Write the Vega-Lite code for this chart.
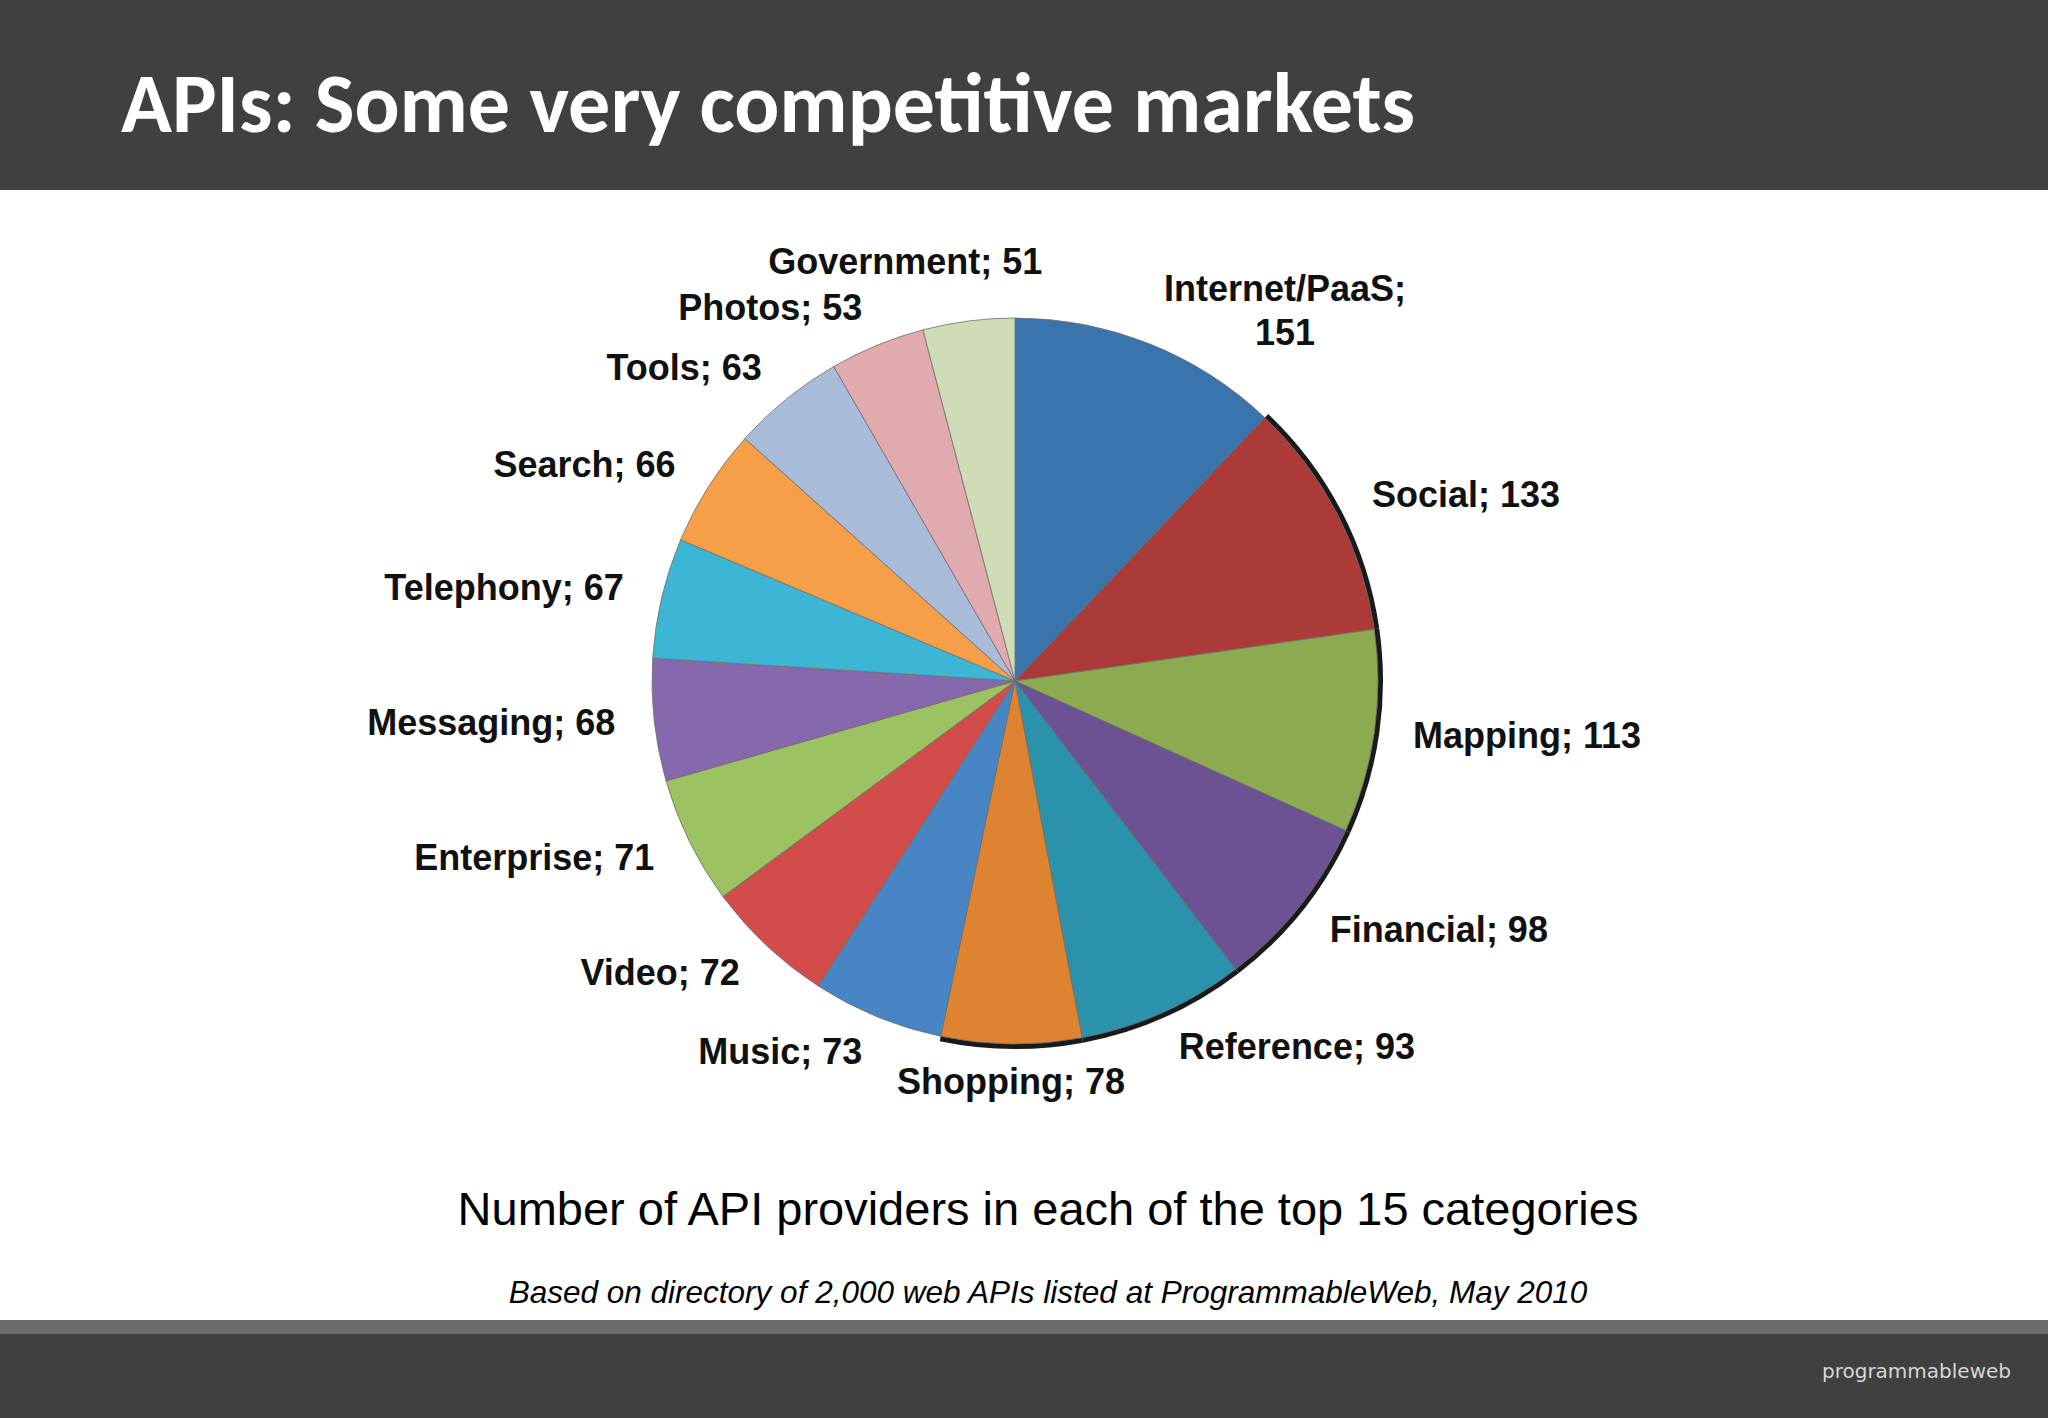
{
  "$schema": "https://vega.github.io/schema/vega-lite/v6.json",
  "background": "#404040",
  "padding": {"top": 65, "left": 0, "right": 0, "bottom": 40},
  "title": {
    "text": "APIs: Some very competitive markets",
    "anchor": "start",
    "frame": "group",
    "dx": 121,
    "offset": 40,
    "font": "Carlito, Lato, sans-serif",
    "fontSize": 84,
    "fontWeight": "bold",
    "color": "#ffffff"
  },
  "spacing": 0,
  "config": {"view": {"stroke": null}},
  "vconcat": [
    {
      "spacing": 0,
      "hconcat": [
        {
          "width": 2030,
          "height": 982,
          "view": {"fill": "#ffffff", "stroke": null},
          "data": {
            "values": [
              {"category": "Internet/PaaS", "value": 151, "label": "Internet/PaaS;\n151"},
              {"category": "Social", "value": 133, "label": "Social; 133"},
              {"category": "Mapping", "value": 113, "label": "Mapping; 113"},
              {"category": "Financial", "value": 98, "label": "Financial; 98"},
              {"category": "Reference", "value": 93, "label": "Reference; 93"},
              {"category": "Shopping", "value": 78, "label": "Shopping; 78"},
              {"category": "Music", "value": 73, "label": "Music; 73"},
              {"category": "Video", "value": 72, "label": "Video; 72"},
              {"category": "Enterprise", "value": 71, "label": "Enterprise; 71"},
              {"category": "Messaging", "value": 68, "label": "Messaging; 68"},
              {"category": "Telephony", "value": 67, "label": "Telephony; 67"},
              {"category": "Search", "value": 66, "label": "Search; 66"},
              {"category": "Tools", "value": 63, "label": "Tools; 63"},
              {"category": "Photos", "value": 53, "label": "Photos; 53"},
              {"category": "Government", "value": 51, "label": "Government; 51"}
            ]
          },
          "encoding": {
            "theta": {"field": "value", "type": "quantitative", "stack": true},
            "order": {"field": "value", "sort": "descending"}
          },
          "layer": [
            {
              "mark": {
                "type": "arc",
                "outerRadius": 368,
                "fill": "#1a1a1a",
                "fillOpacity": {"expr": "(datum.value_start + datum.value_end) / 2500 > 0.13 && (datum.value_start + datum.value_end) / 2500 < 0.52 ? 1 : 0"}
              }
            },
            {
              "mark": {"type": "arc", "outerRadius": 363, "stroke": "#6e6e6e", "strokeWidth": 0.8},
              "encoding": {
                "color": {
                  "field": "category",
                  "type": "nominal",
                  "sort": null,
                  "legend": null,
                  "scale": {
                    "domain": ["Internet/PaaS", "Social", "Mapping", "Financial", "Reference", "Shopping", "Music", "Video", "Enterprise", "Messaging", "Telephony", "Search", "Tools", "Photos", "Government"],
                    "range": ["#3a74ad", "#ab3a38", "#8caa50", "#6c5292", "#2a93ab", "#de8430", "#4885c4", "#d24d4a", "#9cc261", "#8669ad", "#3cb6d4", "#f69e48", "#a8bbd9", "#e0aaae", "#cfdcb6"]
                  }
                }
              }
            },
            {
              "mark": {
                "type": "text",
                "radius": {"expr": "(cos(PI * (datum.value_start + datum.value_end) / 1250) > 0.97 || (cos(PI * (datum.value_start + datum.value_end) / 1250) > 0.9 && sin(PI * (datum.value_start + datum.value_end) / 1250) > 0)) ? 421 : 402"},
                "dx": {"expr": "cos(PI * (datum.value_start + datum.value_end) / 1250) > 0.97 ? -56 : ((cos(PI * (datum.value_start + datum.value_end) / 1250) > 0.9 && sin(PI * (datum.value_start + datum.value_end) / 1250) > 0) ? 114 : 0)"},
                "font": "Liberation Sans, Arial, sans-serif",
                "fontWeight": "bold",
                "fontSize": 36,
                "lineBreak": "\n",
                "lineHeight": 44,
                "baseline": "middle",
                "color": "#111111",
                "align": {"expr": "(cos(PI * (datum.value_start + datum.value_end) / 1250) > 0.97 || (cos(PI * (datum.value_start + datum.value_end) / 1250) > 0.9 && sin(PI * (datum.value_start + datum.value_end) / 1250) > 0)) ? 'center' : (sin(PI * (datum.value_start + datum.value_end) / 1250) > 0.15 ? 'left' : (sin(PI * (datum.value_start + datum.value_end) / 1250) < -0.15 ? 'right' : 'center'))"}
              },
              "encoding": {"text": {"field": "label"}}
            }
          ]
        },
        {
          "width": 18,
          "height": 982,
          "view": {"fill": "#ffffff", "stroke": null},
          "data": {"values": [{"blank": ""}]},
          "mark": {"type": "text"},
          "encoding": {"text": {"field": "blank"}}
        }
      ]
    },
    {
      "width": 2048,
      "height": 106,
      "view": {"fill": "#ffffff", "stroke": null},
      "data": {"values": [{"caption": "Number of API providers in each of the top 15 categories"}]},
      "mark": {"type": "text", "font": "Liberation Sans, Arial, sans-serif", "fontSize": 47, "baseline": "alphabetic", "dx": 24, "color": "#000000"},
      "encoding": {"text": {"field": "caption"}}
    },
    {
      "width": 2048,
      "height": 42,
      "view": {"fill": "#ffffff", "stroke": null},
      "data": {"values": [{"source": "Based on directory of 2,000 web APIs listed at ProgrammableWeb, May 2010"}]},
      "mark": {"type": "text", "font": "Liberation Sans, Arial, sans-serif", "fontSize": 31.5, "fontStyle": "italic", "baseline": "alphabetic", "dx": 24, "dy": 4, "color": "#000000"},
      "encoding": {"text": {"field": "source"}}
    },
    {
      "width": 2048,
      "height": 14,
      "view": {"fill": "#6b6a6c", "stroke": null},
      "data": {"values": [{"blank": ""}]},
      "mark": {"type": "text"},
      "encoding": {"text": {"field": "blank"}},
      "title": {
        "text": "programmableweb",
        "orient": "bottom",
        "anchor": "end",
        "frame": "group",
        "dx": -37,
        "offset": 28,
        "font": "DejaVu Sans, sans-serif",
        "fontSize": 20,
        "fontWeight": "normal",
        "color": "#d6d6d6"
      }
    }
  ]
}
